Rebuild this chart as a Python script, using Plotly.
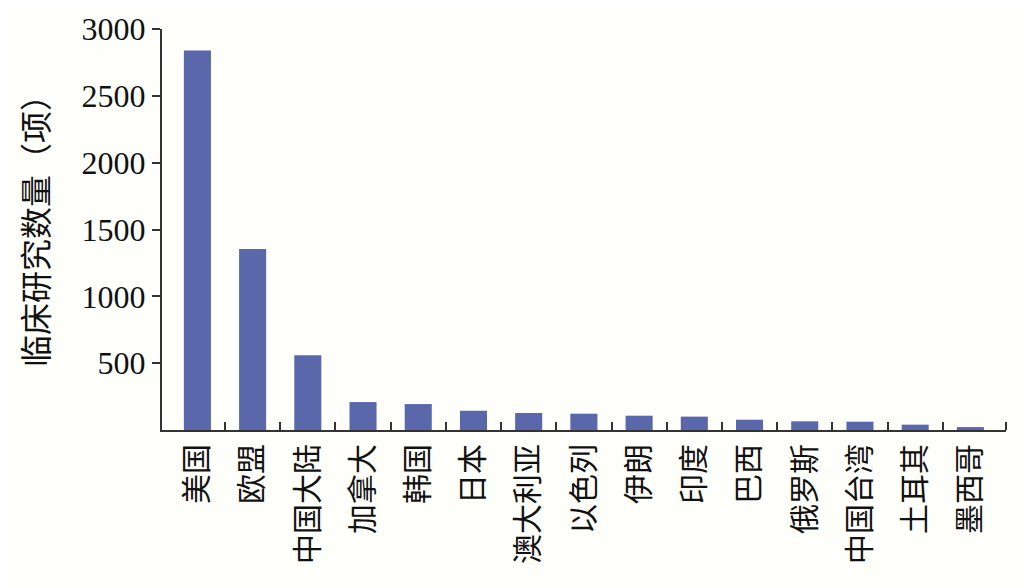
import plotly.graph_objects as go

categories = ["美国", "欧盟", "中国大陆", "加拿大", "韩国", "日本", "澳大利亚", "以色列",
              "伊朗", "印度", "巴西", "俄罗斯", "中国台湾", "土耳其", "墨西哥"]
values = [2840, 1355, 560, 209, 194, 144, 127, 122, 107, 100, 77, 65, 62, 40, 22]
y_ticks = [500, 1000, 1500, 2000, 2500, 3000]
y_title = "临床研究数量（项）"

n = len(categories)
positions = list(range(n))
x_range = [-0.641, n - 0.5 + 0.145]
boundary_ticks = [i + 0.5 for i in range(n - 1)] + [x_range[1]]

fig = go.Figure(go.Bar(
    x=positions,
    y=values,
    marker=dict(color="#5a67ab", line=dict(width=0)),
    hovertext=categories,
))

fig.update_layout(
    width=1031, height=588,
    margin=dict(l=154, r=33, t=21, b=166),
    paper_bgcolor="#fefefa",
    plot_bgcolor="#fefefa",
    bargap=0.51,
    showlegend=False,
    font=dict(family="Liberation Serif", color="#111111"),
    annotations=[dict(
        text=y_title, xref="paper", yref="paper",
        x=-0.151, y=0.515, xanchor="center", yanchor="middle",
        textangle=-90, showarrow=False,
        font=dict(family="Noto Sans CJK SC", size=32, color="#111111"),
    )],
)

fig.update_xaxes(
    tickmode="array",
    tickvals=positions,
    ticktext=categories,
    tickangle=-90,
    tickfont=dict(family="Noto Sans CJK SC", size=30, color="#111111"),
    range=x_range,
    showline=True, linecolor="#333333", linewidth=2,
    ticks="",
    minor=dict(tickmode="array", tickvals=boundary_ticks, ticks="inside",
               ticklen=8, tickwidth=2, tickcolor="#333333", showgrid=False),
    showgrid=False, zeroline=False,
    automargin=False,
)

fig.update_yaxes(
    range=[0, 3000],
    tickmode="array",
    tickvals=y_ticks,
    ticktext=[str(v) for v in y_ticks],
    tickfont=dict(family="Liberation Serif", size=32, color="#111111"),
    showline=True, linecolor="#333333", linewidth=2,
    ticks="outside", ticklen=8, tickwidth=2, tickcolor="#333333",
    showgrid=False, zeroline=False,
    automargin=False,
)

fig.write_html("out.html")
